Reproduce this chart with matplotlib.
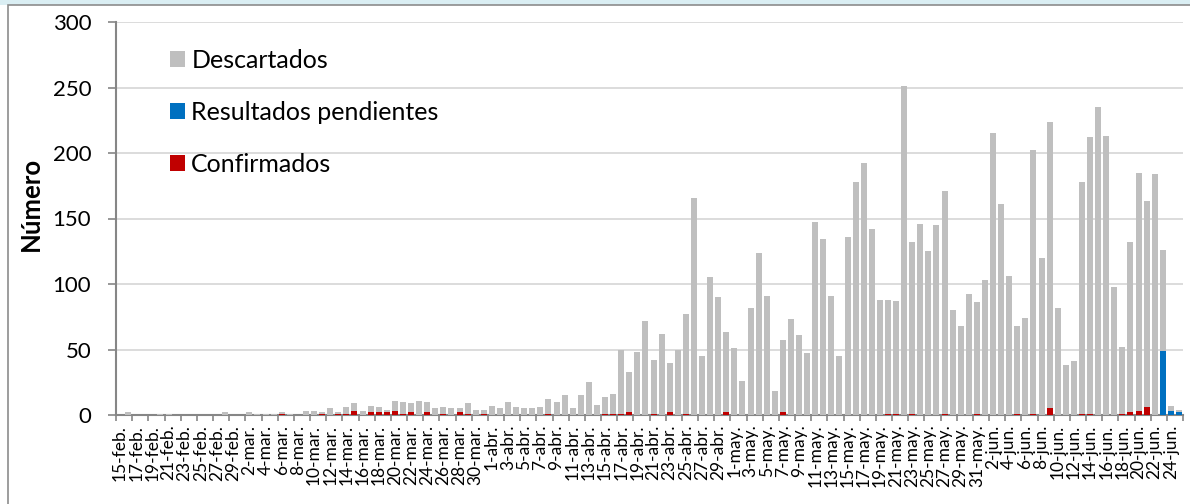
import numpy as np
import pandas as pd
import matplotlib
matplotlib.use('Agg')
import matplotlib.pyplot as plt
from matplotlib.patches import Rectangle

# daily categories, 15-feb to 25-jun
fechas = pd.date_range('2020-02-15', '2020-06-25', freq='D')
meses = {2: 'feb.', 3: 'mar.', 4: 'abr.', 5: 'may.', 6: 'jun.'}
etiquetas = [f'{d.day}-{meses[d.month]}' for d in fechas]

confirmados = [0, 0, 0, 0, 0, 0, 0, 0, 0, 0, 0, 0, 0, 0, 0, 0, 0, 0, 0, 0,
               1, 0, 0, 0, 0, 1, 0, 1, 1, 3, 0, 2, 2, 2, 3, 1, 2, 0, 2, 0,
               1, 0, 2, 1, 0, 1, 0, 0, 0, 0, 0, 0, 0, 1, 0, 0, 0, 0, 0, 0,
               1, 1, 1, 2, 0, 0, 1, 0, 2, 0, 1, 0, 0, 0, 0, 2, 0, 0, 0, 0,
               0, 0, 2, 0, 0, 0, 0, 0, 0, 0, 0, 0, 0, 0, 0, 1, 1, 0, 1, 0,
               0, 0, 1, 0, 0, 0, 1, 0, 0, 0, 0, 1, 0, 1, 0, 5, 0, 0, 0, 1,
               1, 0, 0, 0, 1, 2, 3, 6, 0, 0, 0, 0]

pendientes = [0] * 129 + [49, 3, 2]

descartados = [0, 2, 0, 0, 0, 1, 1, 0, 0, 0, 0, 0, 0, 2, 0, 0, 2, 1, 1, 1,
               1, 1, 0, 3, 3, 1, 5, 1, 5, 6, 3, 5, 4, 2, 8, 9, 7, 11, 8, 5,
               5, 5, 3, 8, 4, 3, 7, 5, 10, 6, 5, 5, 6, 11, 10, 15, 5, 15, 25, 8,
               13, 15, 49, 31, 48, 72, 41, 62, 38, 50, 76, 166, 45, 105, 90, 61, 51, 26, 82, 124,
               91, 18, 55, 73, 61, 47, 147, 134, 91, 45, 136, 178, 192, 142, 88, 87, 86, 251, 131, 146,
               125, 145, 170, 80, 68, 92, 85, 103, 215, 161, 106, 67, 74, 201, 120, 219, 82, 38, 41, 177,
               211, 235, 213, 98, 51, 130, 182, 157, 184, 77, 4, 2]

plt.rcParams['font.family'] = ['Lato', 'DejaVu Sans']

W, H = 1190, 504
fig = plt.figure(figsize=(W / 100, H / 100), dpi=100)

# chart frame
fig.patches.append(Rectangle((0, 1 - 5 / H), 1, 5 / H, transform=fig.transFigure,
                             facecolor='#DAEEF3', edgecolor='none'))
fig.patches.append(Rectangle((8 / W, -0.02), 1.02, 1 - 5 / H + 0.02, transform=fig.transFigure,
                             facecolor='none', edgecolor='#8C8C8C', lw=1.2))

ax = fig.add_axes([116 / W, 1 - 415 / H, (1183 - 116) / W, (415 - 22) / H])
x = np.arange(len(fechas))
w = 0.75
base2 = np.add(confirmados, pendientes)
b1 = ax.bar(x, confirmados, w, color='#C00000', zorder=3)
b2 = ax.bar(x, pendientes, w, bottom=confirmados, color='#0070C0', zorder=3)
b3 = ax.bar(x, descartados, w, bottom=base2, color='#BFBFBF', zorder=3)

ax.set_xlim(-0.5, len(fechas) - 0.5)
ax.set_ylim(0, 300)
ax.set_yticks(range(0, 301, 50))
ax.yaxis.grid(True, color='#D9D9D9', lw=1.3)
ax.set_axisbelow(True)

ax.set_xticks(x[::2])
ax.set_xticklabels(etiquetas[::2], rotation=90, fontsize=12.5)
ax.set_xticks(np.arange(-0.5, len(fechas), 2), minor=True)
ax.tick_params(axis='x', which='major', length=0, pad=7)
ax.tick_params(axis='x', which='minor', length=4.5, color='#868686', width=1.2)
ax.tick_params(axis='y', length=5.8, color='#868686', width=1.2, labelsize=16, pad=12)

for s in ['top', 'right']:
    ax.spines[s].set_visible(False)
for s in ['left', 'bottom']:
    ax.spines[s].set_color('#868686')
    ax.spines[s].set_linewidth(1.5)

fig.text(31 / W, 1 - 204 / H, 'Número', rotation=90, ha='center', va='center',
         fontsize=18.5, fontweight='bold')

ax.legend([b3, b2, b1], ['Descartados', 'Resultados pendientes', 'Confirmados'],
          loc='upper left', bbox_to_anchor=(160 / W, 1 - 39 / H), bbox_transform=fig.transFigure,
          frameon=False, fontsize=18, handlelength=0.6, handleheight=0.6,
          handletextpad=0.25, labelspacing=1.15, borderaxespad=0)

fig.savefig('out.png', dpi=100, facecolor='white')
